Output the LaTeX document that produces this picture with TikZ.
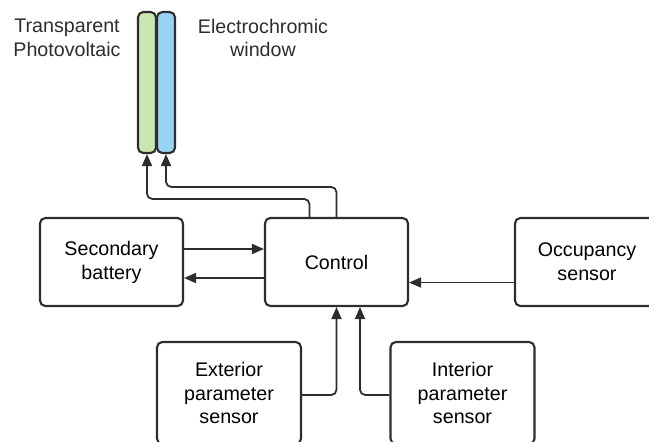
\documentclass[tikz,border=0pt]{standalone}
\usepackage{fontspec}
\setmainfont{Liberation Sans}
\usetikzlibrary{arrows.meta}

\definecolor{pvgreen}{RGB}{200,231,178}
\definecolor{ecblue}{RGB}{152,211,245}
\definecolor{linegray}{RGB}{45,45,45}

\begin{document}
\begin{tikzpicture}[x=0.02cm, y=-0.02cm]
            \tikzstyle{block}=[rectangle, draw=linegray, line width=1.2pt,
            rounded corners=3pt, inner sep=0pt, align=center,
            minimum width=2.86cm, minimum height=1.76cm,
            font=\fontsize{11.2}{13.6}\selectfont]
            \tikzstyle{pane}=[rectangle, draw=linegray, line width=1.2pt,
            rounded corners=3pt, inner sep=0pt,
            minimum width=0.36cm, minimum height=2.82cm]
            \tikzstyle{caption}=[align=center, text=linegray,
            font=\fontsize{11.2}{13.6}\selectfont]
            \tikzstyle{arr}=[draw=linegray, line width=1pt, rounded corners=3pt,
            -{Triangle[length=0.24cm, width=0.2cm]}]

            \useasboundingbox (0,0) rectangle (649,441);
            \clip (0,0) rectangle (649,441);

            % window panes
            \node[pane, fill=pvgreen] (pv) at (147,82.5) {};
            \node[pane, fill=ecblue] (ec) at (166,82.5) {};
            \node[caption] (pvtext) at (67,38) {Transparent\\Photovoltaic};
            \node[caption] (ectext) at (263,38) {Electrochromic\\window};

            % blocks
            \node[block] (bat) at (111.5,262) {Secondary\\battery};
            \node[block] (ctrl) at (336.5,262) {Control};
            \node[block, minimum width=2.88cm] (occ) at (587,262) {Occupancy\\sensor};
            \node[block, minimum width=2.88cm, minimum height=2.04cm] (ext) at (229,393)
                {Exterior\\parameter\\sensor};
            \node[block, minimum width=2.88cm, minimum height=2.04cm] (int) at (462.5,393)
                {Interior\\parameter\\sensor};

            \draw[arr] ([xshift=-0.54cm]ctrl.north) -- ++(0,-18) -| (pv.south);
            \draw[arr] (ctrl.north) -- ++(0,-30) -| (ec.south);
            \draw[arr] ([yshift=0.26cm]bat.east) -- ([yshift=0.26cm]ctrl.west);
            \draw[arr] ([yshift=-0.32cm]ctrl.west) -- ([yshift=-0.32cm]bat.east);
            \draw[arr] ([yshift=-0.41cm]occ.west) -- ([yshift=-0.41cm]ctrl.east);
            \draw[arr] ([yshift=-0.04cm]ext.east) -| (ctrl.south);
            \draw[arr] ([yshift=-0.04cm]int.west) -| ([xshift=0.47cm]ctrl.south);
        \end{tikzpicture}
\end{document}
